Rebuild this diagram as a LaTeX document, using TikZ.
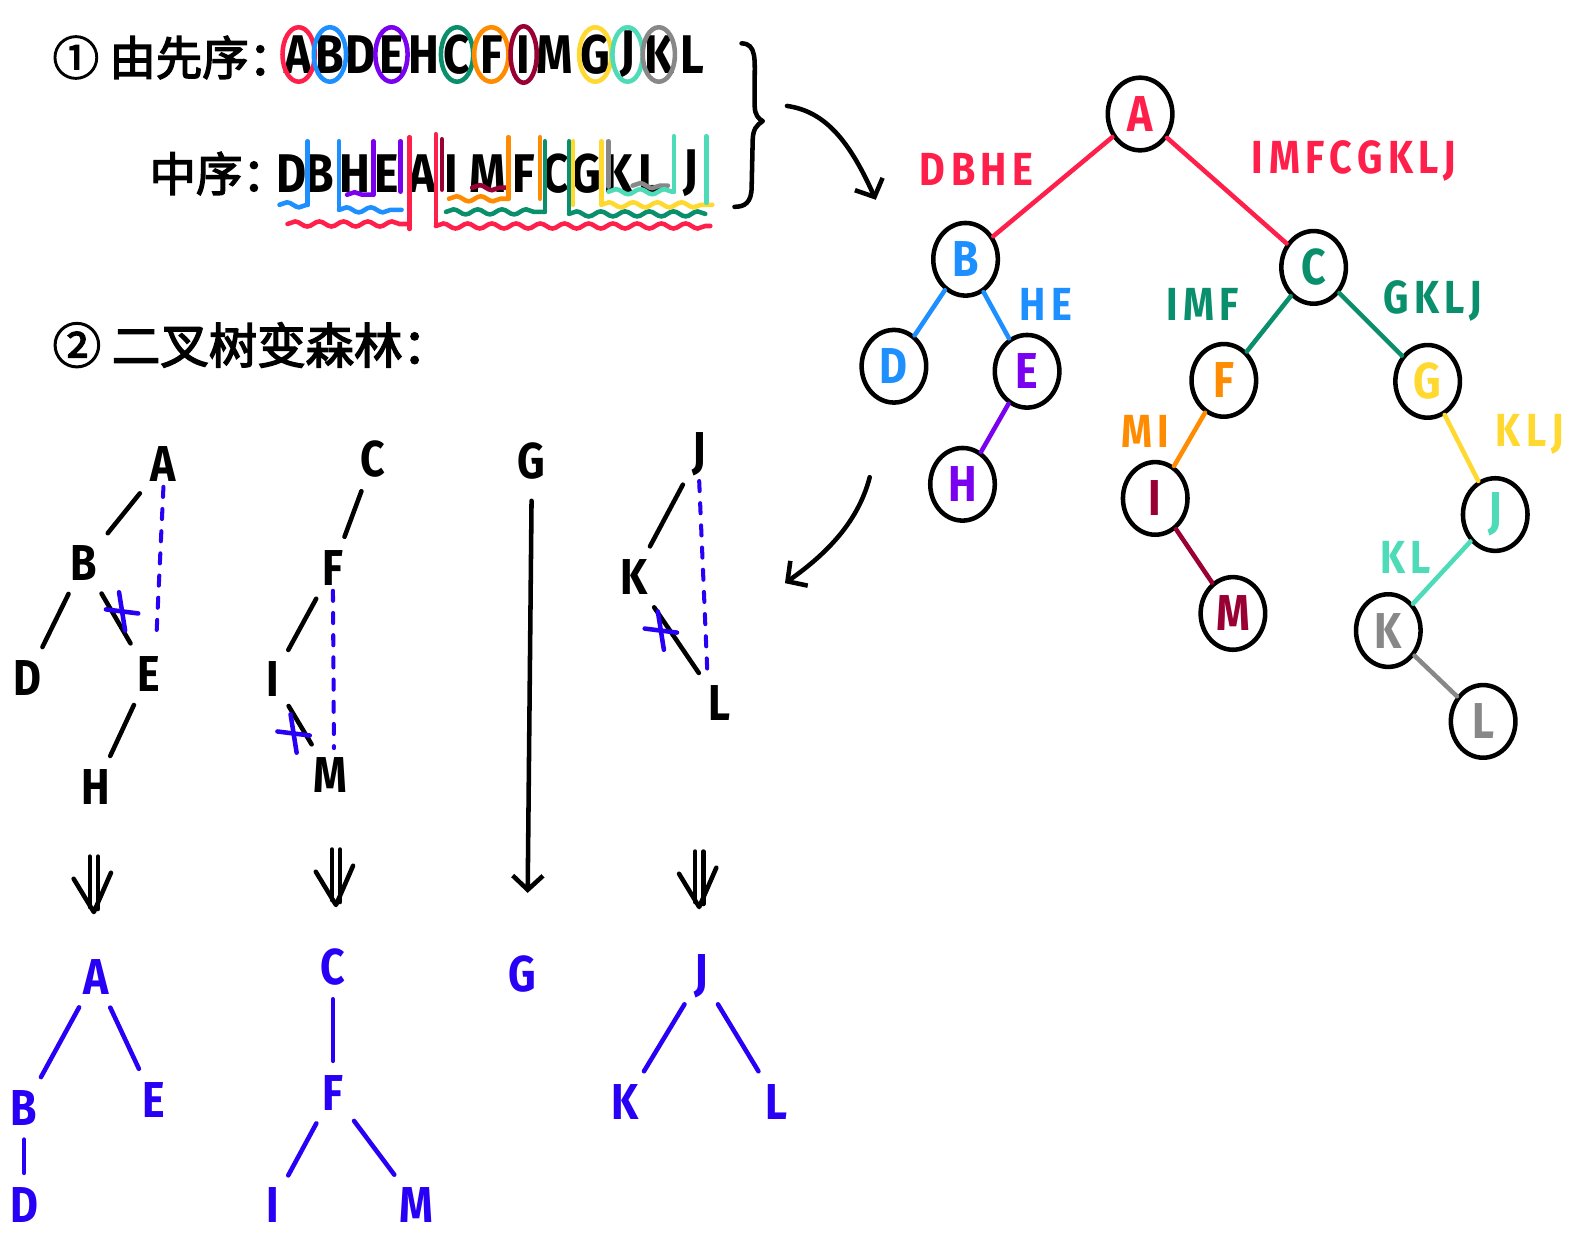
\documentclass[tikz,border=0pt]{standalone}
\usepackage{fontspec}
\setmainfont{Fira Sans}[FakeStretch=0.85]
\newfontfamily\cjk{Noto Sans CJK SC}[FakeBold=3]
\usetikzlibrary{shapes.geometric,arrows.meta,decorations.pathmorphing,calc}
\definecolor{cred}{HTML}{FF1F4B}
\definecolor{cblue}{HTML}{1E8FFF}
\definecolor{cpurp}{HTML}{7A00F0}
\definecolor{cteal}{HTML}{0A8F6C}
\definecolor{corange}{HTML}{FF8C00}
\definecolor{cmaroon}{HTML}{990033}
\definecolor{cyellow}{HTML}{FFD92F}
\definecolor{caqua}{HTML}{4DDBB8}
\definecolor{cgray}{HTML}{888888}
\definecolor{fblue}{HTML}{2800F5}
\begin{document}
\begin{tikzpicture}[x=1pt,y=-1pt,
  pen/.style={line width=4.5pt, line cap=round, line join=round},
  wv/.style={line width=4.5pt, line cap=round, decorate, decoration={snake, amplitude=2.5pt, segment length=24pt}},
  arr/.style={-{Straight Barb[length=14pt,width=30pt]}},
  cjkh/.style={font=\cjk\fontsize{46}{46}\selectfont, inner sep=0pt},
  tl/.style={font=\bfseries\fontsize{54}{54}\selectfont, inner sep=0pt},
  tn/.style={draw=black, line width=4.5pt, ellipse, minimum width=64pt, minimum height=72pt, inner sep=0pt, font=\bfseries\fontsize{50}{50}\selectfont},
  lb/.style={font=\bfseries\fontsize{46}{46}\selectfont\addfontfeature{LetterSpace=12}, inner sep=0pt},
  fl/.style={font=\bfseries\fontsize{50}{50}\selectfont, inner sep=5pt},
  edge/.style={line width=4.5pt, line cap=round},
  fe/.style={pen, shorten <=9pt, shorten >=9pt},
  dsh/.style={fblue, line width=4pt, line cap=round, dash pattern=on 10pt off 12pt},
  ast/.pic={\draw[fblue,pen] (-3,-19) -- (3,19); \draw[fblue,pen] (-16,-2) -- (16,2);},
  dar/.pic={\draw[pen] (-4,-28) -- (-4,22); \draw[pen] (4,-28) -- (4,24); \draw[pen] (-20,-6) -- (0,27) -- (17,-12);}
]
\fill[white] (0,0) rectangle (1568,1226);
\useasboundingbox (0,0) rectangle (1568,1226);

% ---------- headings ----------
\node[cjkh, anchor=west] (h1) at (52,57) {① 由先序：};
\node[cjkh, anchor=west] (h2) at (148,172) {中序：};
\node[cjkh, anchor=west, font=\cjk\fontsize{48}{48}\selectfont] (h3) at (52,342) {② 二叉树变森林：};

% ---------- preorder ----------
\foreach \x/\l in {296/A,327/B,357/D,388/E,420/H,453/C,487/F,519/I,550/M,590/G,622/J,653/K,686/L}
  \node[tl] (p\l) at (\x,54) {\l};
\draw[cred,pen] (pA) ellipse[x radius=16, y radius=27];
\draw[cblue,pen] (pB) ellipse[x radius=16, y radius=27];
\draw[cpurp,pen] (pE) ellipse[x radius=16, y radius=27];
\draw[cteal,pen] (pC) ellipse[x radius=16, y radius=27];
\draw[corange,pen] (pF) ellipse[x radius=17, y radius=27];
\draw[cmaroon,pen] (pI) ellipse[x radius=13, y radius=28];
\draw[cyellow,pen] (pG) ellipse[x radius=16, y radius=27];
\draw[caqua,pen] (pJ) ellipse[x radius=15, y radius=27];
\draw[cgray,pen] (pK) ellipse[x radius=16, y radius=27];

% ---------- inorder ----------
\foreach \x/\l in {289/D,317/B,352/H,383/E,418/A,447/I,483/M,519/F,551/C,581/G,613/K,645/L,685/J}
  \node[tl] (i\l) at (\x,172) {\l};
% blue
\draw[cblue,wv] (277,203) -- (305,203);
\draw[cblue,pen] (305,203) -- (305,140);
\draw[cblue,pen] (336,140) -- (336,208);
\draw[cblue,wv] (336,208) -- (398,208);
% purple
\draw[cpurp,wv] (344,193) -- (370,193);
\draw[cpurp,pen] (370,140) -- (370,193);
\draw[cpurp,pen] (397,140) -- (397,190);
% red
\draw[cred,wv] (285,222) -- (406,222);
\draw[cred,pen] (406,136) -- (406,227);
\draw[cred,pen] (432,133) -- (432,222);
\draw[cred,wv] (432,224) -- (704,224);
% maroon
\draw[cmaroon,pen] (438,138) -- (438,188);
\draw[cmaroon,wv] (468,186) -- (503,186);
% orange
\draw[corange,wv] (445,197) -- (504,197);
\draw[corange,pen] (504,136) -- (504,197);
\draw[corange,pen] (535,136) -- (535,197);
% teal
\draw[cteal,wv] (442,210) -- (540,210);
\draw[cteal,pen] (540,140) -- (540,210);
\draw[cteal,pen] (564,140) -- (564,210);
\draw[cteal,wv] (564,212) -- (699,212);
% yellow
\draw[cyellow,pen] (568,140) -- (568,203);
\draw[cyellow,pen] (596,140) -- (596,203);
\draw[cyellow,wv] (596,203) -- (706,203);
% gray
\draw[cgray,pen] (603,140) -- (603,185);
\draw[cgray,wv] (627,184) -- (662,184);
% aqua
\draw[caqua,wv] (603,190) -- (668,190);
\draw[caqua,pen] (668,135) -- (668,190);
\draw[caqua,pen] (700,135) -- (700,201);

% brace
\draw[pen] (735,43) .. controls (750,43) and (748,60) .. (748,80) -- (748,105)
  .. controls (748,114) and (752,118) .. (756,120)
  .. controls (750,124) and (746,128) .. (746,140) -- (745,185)
  .. controls (745,201) and (738,205) .. (728,205);

% arrow to tree
\coordinate (a1) at (780,105);
\coordinate (a2) at (868,198);
\draw[pen,arr] (a1) .. controls (815,110) and (840,135) .. (a2);

% ---------- right tree ----------
\node[tn,text=cred] (tA) at (1130,113) {A};
\node[tn,text=cblue] (tB) at (957,257) {B};
\node[tn,text=cteal] (tC) at (1302,265) {C};
\node[tn,text=cblue] (tD) at (886,363) {D};
\node[tn,text=cpurp] (tE) at (1018,368) {E};
\node[tn,text=corange] (tF) at (1213,377) {F};
\node[tn,text=cyellow] (tG) at (1415,378) {G};
\node[tn,text=cpurp] (tH) at (954,480) {H};
\node[tn,text=cmaroon] (tI) at (1145,494) {I};
\node[tn,text=cmaroon] (tM) at (1222,608) {M};
\node[tn,text=caqua] (tJ) at (1482,510) {J};
\node[tn,text=cgray] (tK) at (1376,625) {K};
\node[tn,text=cgray] (tL) at (1470,715) {L};
\draw[cred,edge] (tA) -- (tB);
\draw[cred,edge] (tA) -- (tC);
\draw[cblue,edge] (tB) -- (tD);
\draw[cblue,edge] (tB) -- (tE);
\draw[cpurp,edge] (tE) -- (tH);
\draw[cteal,edge] (tC) -- (tF);
\draw[cteal,edge] (tC) -- (tG);
\draw[corange,edge] (tF) -- (tI);
\draw[cmaroon,edge] (tI) -- (tM);
\draw[cyellow,edge] (tG) -- (tJ);
\draw[caqua,edge] (tJ) -- (tK);
\draw[cgray,edge] (tK) -- (tL);
\node[lb,text=cred] (l1) at (968,168) {DBHE};
\node[lb,text=cred] (l2) at (1342,160) {IMFCGKLJ};
\node[lb,text=cblue] (l3) at (1037,302) {HE};
\node[lb,text=cteal] (l4) at (1192,302) {IMF};
\node[lb,text=cteal] (l5) at (1420,298) {GKLJ};
\node[lb,text=corange] (l6) at (1135,428) {MI};
\node[lb,text=cyellow] (l7) at (1516,430) {KLJ};
\node[lb,text=caqua] (l8) at (1393,552) {KL};

% arrow to forest
\coordinate (a3) at (862,473);
\coordinate (a4) at (778,578);
\draw[pen,arr] (a3) .. controls (850,520) and (815,552) .. (a4);

% ---------- black forest ----------
\node[fl] (fA1) at (162,460) {A};
\node[fl] (fB1) at (83,558) {B};
\node[fl] (fD1) at (27,672) {D};
\node[fl] (fE1) at (147,668) {E};
\node[fl] (fH1) at (95,780) {H};
\draw[fe] (fA1) -- (fB1);
\draw[fe] (fB1) -- (fD1);
\draw[fe] (fB1) -- (fE1);
\draw[fe] (fE1) -- (fH1);
\draw[dsh] (fA1.south) -- ($(fE1.north)+(8,-14)$);
\pic at (121,606) {ast};

\node[fl] (fC2) at (370,455) {C};
\node[fl] (fF2) at (330,563) {F};
\node[fl] (fI2) at (270,673) {I};
\node[fl] (fM2) at (327,768) {M};
\draw[fe] (fC2) -- (fF2);
\draw[fe] (fF2) -- (fI2);
\draw[fe] (fI2) -- (fM2);
\draw[dsh] (fF2.south) -- ($(fM2.north)+(4,-4)$);
\pic at (291,727) {ast};

\node[fl] (fG3) at (527,457) {G};
\coordinate (g2) at (523,885);
\draw[pen,arr,shorten <=16pt] (fG3.south) -- (g2);

\node[fl] (fJ4) at (693,450) {J};
\node[fl] (fK4) at (628,572) {K};
\node[fl] (fL4) at (713,697) {L};
\draw[fe] (fJ4) -- (fK4);
\draw[fe] (fK4) -- (fL4);
\draw[dsh] (fJ4.south) -- ($(fL4.north)+(-12,-10)$);
\pic at (655,625) {ast};

% double arrows
\pic at (93,877) {dar};
\pic at (333,870) {dar};
\pic at (693,872) {dar};

% ---------- blue forest ----------
\begin{scope}[every node/.style={fl,text=fblue}]
\node (bA1) at (95,968) {A};
\node (bB1) at (24,1098) {B};
\node (bE1) at (152,1090) {E};
\node (bD1) at (24,1194) {D};
\node (bC2) at (330,958) {C};
\node (bF2) at (330,1083) {F};
\node (bI2) at (270,1194) {I};
\node (bM2) at (413,1194) {M};
\node (bG3) at (518,965) {G};
\node (bJ4) at (695,968) {J};
\node (bK4) at (620,1092) {K};
\node (bL4) at (770,1092) {L};
\end{scope}
\draw[fe,fblue] (bA1) -- (bB1);
\draw[fe,fblue] (bA1) -- (bE1);
\draw[fe,fblue] (bB1) -- (bD1);
\draw[fe,fblue] (bC2) -- (bF2);
\draw[fe,fblue] (bF2) -- (bI2);
\draw[fe,fblue] (bF2) -- (bM2);
\draw[fe,fblue] (bJ4) -- (bK4);
\draw[fe,fblue] (bJ4) -- (bL4);
\end{tikzpicture}
\end{document}
